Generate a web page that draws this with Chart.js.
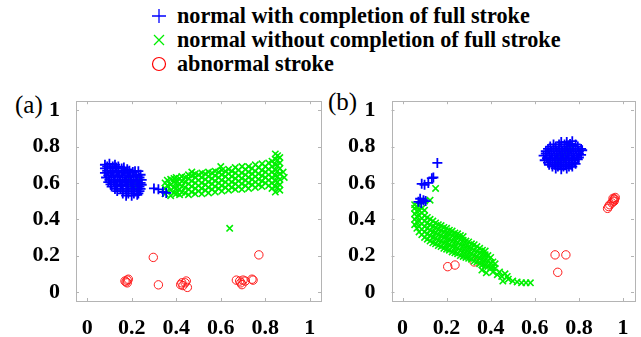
<!DOCTYPE html>
<html>
<head>
<meta charset="utf-8">
<script src="https://cdn.jsdelivr.net/npm/chart.js@4/dist/chart.umd.min.js"></script>
<style>
  body{ margin:0; background:#fff; width:641px; height:337px; overflow:hidden; position:relative; font-family:"Liberation Serif","Times New Roman",serif; }
  .cv{ position:absolute; }
  #wrapA{ left:0; top:80px; width:330px; height:257px; }
  #wrapB{ left:330px; top:80px; width:311px; height:257px; }
  .legend{ position:absolute; left:150px; top:4px; font-weight:bold; font-size:22.2px; color:#000; }
  .legend div{ height:24px; line-height:24px; white-space:nowrap; }
  .legend svg{ vertical-align:middle; margin-right:9px; position:relative; top:-2px; }
  .tag{ position:absolute; font-size:25px; color:#000; }
</style>
</head>
<body>
<div class="legend">
  <div><svg width="18" height="18"><path d="M9 2V16M2 9H16" stroke="#0000ff" stroke-width="1.3"/></svg>normal with completion of full stroke</div>
  <div><svg width="18" height="18"><path d="M4 4L14 14M14 4L4 14" stroke="#00ee00" stroke-width="1.3"/></svg>normal without completion of full stroke</div>
  <div><svg width="18" height="18"><circle cx="9" cy="9" r="6.5" fill="none" stroke="#ff0000" stroke-width="1.2"/></svg>abnormal stroke</div>
</div>
<div class="tag" style="left:15px;top:91px;">(a)</div>
<div class="tag" style="left:328px;top:88px;">(b)</div>
<div class="cv" id="wrapA"><canvas id="chartA"></canvas></div>
<div class="cv" id="wrapB"><canvas id="chartB"></canvas></div>
<script>
// tick values shared by both panels
const tickVals = [0, 0.2, 0.4, 0.6, 0.8, 1];
const axisMin = -0.05, axisMax = 1.05;

// ---- panel (a) ----
const blueA = [
  [0.08,0.70],[0.10,0.705],[0.125,0.70],
  [0.09,0.69],[0.115,0.69],[0.14,0.69],[0.165,0.685],
  [0.08,0.68],[0.105,0.68],[0.13,0.685],[0.155,0.68],[0.18,0.675],
  [0.09,0.667],[0.115,0.667],[0.14,0.667],[0.165,0.667],[0.19,0.667],[0.215,0.665],
  [0.08,0.655],[0.105,0.655],[0.13,0.66],[0.155,0.655],[0.18,0.655],[0.205,0.66],[0.23,0.665],
  [0.095,0.642],[0.12,0.642],[0.145,0.642],[0.17,0.642],[0.195,0.642],[0.22,0.642],[0.24,0.645],
  [0.085,0.63],[0.11,0.63],[0.135,0.635],[0.16,0.63],[0.185,0.63],[0.21,0.635],[0.235,0.63],
  [0.10,0.617],[0.125,0.617],[0.15,0.617],[0.175,0.617],[0.20,0.617],[0.225,0.617],[0.245,0.617],
  [0.095,0.605],[0.12,0.605],[0.145,0.61],[0.17,0.605],[0.195,0.605],[0.22,0.61],[0.24,0.60],
  [0.105,0.592],[0.13,0.592],[0.155,0.592],[0.18,0.592],[0.205,0.592],[0.23,0.592],[0.245,0.59],
  [0.11,0.58],[0.135,0.58],[0.16,0.585],[0.185,0.58],[0.21,0.58],[0.235,0.58],
  [0.125,0.567],[0.15,0.567],[0.175,0.567],[0.20,0.567],[0.225,0.567],[0.24,0.567],
  [0.135,0.555],[0.16,0.555],[0.185,0.555],[0.21,0.555],[0.235,0.555],
  [0.16,0.542],[0.185,0.542],[0.21,0.542],[0.23,0.542],
  [0.175,0.53],[0.20,0.53],[0.225,0.535],
  [0.30,0.57],[0.32,0.565],[0.34,0.55],[0.355,0.545]
];
const greenA = [
  [0.205,0.585],[0.215,0.595],[0.21,0.605],[0.20,0.60],[0.22,0.58],[0.21,0.575],[0.195,0.59],[0.225,0.60],[0.19,0.62],[0.23,0.62],
  [0.35,0.54],[0.35,0.57],[0.35,0.60],
  [0.36,0.555],[0.36,0.585],[0.36,0.615],
  [0.375,0.53],[0.375,0.56],[0.375,0.59],[0.375,0.62],
  [0.39,0.545],[0.39,0.575],[0.39,0.605],[0.39,0.625],
  [0.40,0.54],[0.40,0.57],[0.40,0.60],[0.40,0.63],
  [0.415,0.535],[0.415,0.565],[0.415,0.595],[0.415,0.625],
  [0.425,0.55],[0.425,0.58],[0.425,0.61],[0.425,0.635],
  [0.44,0.545],[0.44,0.575],[0.44,0.605],[0.44,0.63],
  [0.455,0.535],[0.455,0.565],[0.455,0.595],[0.455,0.625],[0.455,0.645],
  [0.47,0.55],[0.47,0.58],[0.47,0.61],[0.47,0.64],
  [0.485,0.54],[0.485,0.57],[0.485,0.60],[0.485,0.63],[0.485,0.65],
  [0.50,0.555],[0.50,0.585],[0.50,0.615],[0.50,0.645],
  [0.515,0.54],[0.515,0.57],[0.515,0.60],[0.515,0.63],[0.515,0.655],
  [0.53,0.56],[0.53,0.59],[0.53,0.62],[0.53,0.65],
  [0.545,0.545],[0.545,0.575],[0.545,0.605],[0.545,0.635],[0.545,0.66],
  [0.56,0.565],[0.56,0.595],[0.56,0.625],[0.56,0.655],
  [0.575,0.55],[0.575,0.58],[0.575,0.61],[0.575,0.64],[0.575,0.665],
  [0.59,0.57],[0.59,0.60],[0.59,0.63],[0.59,0.66],
  [0.605,0.555],[0.605,0.585],[0.605,0.615],[0.605,0.645],[0.605,0.67],
  [0.62,0.575],[0.62,0.605],[0.62,0.635],[0.62,0.665],
  [0.635,0.56],[0.635,0.59],[0.635,0.62],[0.635,0.65],[0.635,0.675],
  [0.65,0.575],[0.65,0.605],[0.65,0.635],[0.65,0.665],
  [0.665,0.565],[0.665,0.595],[0.665,0.625],[0.665,0.655],[0.665,0.685],
  [0.68,0.58],[0.68,0.61],[0.68,0.64],[0.68,0.67],
  [0.695,0.565],[0.695,0.595],[0.695,0.625],[0.695,0.655],[0.695,0.69],
  [0.71,0.585],[0.71,0.615],[0.71,0.645],[0.71,0.675],
  [0.725,0.57],[0.725,0.60],[0.725,0.63],[0.725,0.66],[0.725,0.69],
  [0.74,0.59],[0.74,0.62],[0.74,0.65],[0.74,0.68],
  [0.755,0.575],[0.755,0.605],[0.755,0.635],[0.755,0.665],[0.755,0.70],
  [0.77,0.59],[0.77,0.62],[0.77,0.65],[0.77,0.685],
  [0.785,0.58],[0.785,0.61],[0.785,0.64],[0.785,0.67],[0.785,0.705],
  [0.80,0.60],[0.80,0.63],[0.80,0.66],[0.80,0.69],
  [0.815,0.585],[0.815,0.615],[0.815,0.645],[0.815,0.675],[0.815,0.71],
  [0.83,0.57],[0.83,0.60],[0.83,0.63],[0.83,0.66],[0.83,0.69],[0.83,0.72],
  [0.845,0.55],[0.845,0.58],[0.845,0.61],[0.845,0.64],[0.845,0.67],[0.845,0.70],[0.845,0.73],[0.845,0.76],
  [0.855,0.575],[0.855,0.605],[0.855,0.635],[0.855,0.665],[0.855,0.695],[0.855,0.725],[0.855,0.75],
  [0.865,0.56],[0.865,0.59],[0.865,0.62],[0.865,0.65],[0.865,0.68],[0.865,0.71],[0.865,0.74],
  [0.885,0.63],[0.88,0.66],[0.64,0.35],[0.60,0.69],[0.47,0.66]
];
const redA = [
  [0.21,0.59],
  [0.17,0.06],[0.18,0.065],[0.175,0.055],[0.18,0.05],[0.185,0.07],
  [0.297,0.19],[0.32,0.039],
  [0.42,0.04],[0.43,0.035],[0.44,0.05],[0.445,0.06],[0.45,0.025],[0.425,0.05],
  [0.67,0.065],[0.685,0.06],[0.695,0.04],[0.70,0.065],[0.71,0.06],[0.74,0.07],[0.745,0.065],[0.69,0.05],
  [0.771,0.204]
];

// ---- panel (b) ----
const blueB = [
  [0.72,0.825],[0.745,0.825],[0.77,0.83],
  [0.685,0.812],[0.71,0.812],[0.735,0.812],[0.76,0.815],[0.785,0.812],
  [0.67,0.80],[0.695,0.80],[0.72,0.80],[0.745,0.80],[0.77,0.805],[0.795,0.80],
  [0.66,0.787],[0.685,0.787],[0.71,0.787],[0.735,0.787],[0.76,0.787],[0.785,0.787],[0.81,0.787],
  [0.65,0.775],[0.675,0.775],[0.70,0.775],[0.725,0.775],[0.75,0.775],[0.775,0.775],[0.80,0.775],[0.815,0.78],
  [0.65,0.762],[0.675,0.762],[0.70,0.762],[0.725,0.762],[0.75,0.762],[0.775,0.762],[0.80,0.762],
  [0.64,0.75],[0.665,0.75],[0.69,0.75],[0.715,0.75],[0.74,0.75],[0.765,0.75],[0.79,0.75],[0.81,0.755],
  [0.655,0.737],[0.68,0.737],[0.705,0.737],[0.73,0.737],[0.755,0.737],[0.78,0.737],[0.80,0.74],
  [0.645,0.725],[0.67,0.725],[0.695,0.725],[0.72,0.725],[0.745,0.725],[0.77,0.725],[0.795,0.73],
  [0.66,0.712],[0.68,0.712],[0.705,0.712],[0.73,0.712],[0.755,0.712],[0.78,0.712],
  [0.665,0.70],[0.69,0.70],[0.715,0.70],[0.74,0.70],[0.765,0.70],[0.785,0.705],
  [0.68,0.69],[0.705,0.69],[0.73,0.69],[0.755,0.69],[0.77,0.69],
  [0.695,0.68],[0.72,0.675],[0.745,0.68],
  [0.158,0.71],[0.133,0.626],[0.14,0.63],[0.117,0.60],[0.087,0.595],[0.10,0.59],
  [0.08,0.513],[0.095,0.505],[0.072,0.496],[0.085,0.49],[0.105,0.50]
];
const greenB = [
  [0.71,0.73],[0.72,0.745],[0.73,0.755],[0.74,0.765],[0.75,0.78],[0.76,0.79],[0.72,0.76],[0.735,0.74],[0.705,0.72],[0.745,0.775],[0.725,0.73],[0.70,0.745],
  [0.055,0.37],[0.055,0.40],[0.055,0.43],[0.055,0.46],[0.055,0.48],
  [0.065,0.35],[0.065,0.385],[0.065,0.415],[0.065,0.445],[0.065,0.47],
  [0.075,0.33],[0.075,0.36],[0.075,0.39],[0.075,0.42],[0.075,0.45],[0.075,0.475],
  [0.0875,0.315],[0.0875,0.345],[0.0875,0.375],[0.0875,0.405],[0.0875,0.435],[0.0875,0.46],
  [0.10,0.30],[0.10,0.33],[0.10,0.36],[0.10,0.39],[0.10,0.42],[0.10,0.45],
  [0.1125,0.29],[0.1125,0.32],[0.1125,0.35],[0.1125,0.38],[0.1125,0.41],
  [0.125,0.28],[0.125,0.31],[0.125,0.34],[0.125,0.37],[0.125,0.40],
  [0.1375,0.27],[0.1375,0.30],[0.1375,0.33],[0.1375,0.36],[0.1375,0.39],
  [0.15,0.265],[0.15,0.295],[0.15,0.325],[0.15,0.355],[0.15,0.38],
  [0.1625,0.255],[0.1625,0.285],[0.1625,0.315],[0.1625,0.345],[0.1625,0.37],
  [0.175,0.25],[0.175,0.28],[0.175,0.31],[0.175,0.34],[0.175,0.365],
  [0.1875,0.24],[0.1875,0.27],[0.1875,0.30],[0.1875,0.33],[0.1875,0.355],
  [0.20,0.235],[0.20,0.265],[0.20,0.295],[0.20,0.325],[0.20,0.35],
  [0.2125,0.23],[0.2125,0.26],[0.2125,0.29],[0.2125,0.32],[0.2125,0.34],
  [0.225,0.22],[0.225,0.25],[0.225,0.28],[0.225,0.31],[0.225,0.335],
  [0.2375,0.215],[0.2375,0.245],[0.2375,0.275],[0.2375,0.305],[0.2375,0.325],
  [0.25,0.21],[0.25,0.24],[0.25,0.27],[0.25,0.30],[0.25,0.32],
  [0.2625,0.20],[0.2625,0.23],[0.2625,0.26],[0.2625,0.29],[0.2625,0.31],
  [0.275,0.195],[0.275,0.225],[0.275,0.255],[0.275,0.285],[0.275,0.305],
  [0.2875,0.19],[0.2875,0.22],[0.2875,0.25],[0.2875,0.28],
  [0.30,0.185],[0.30,0.215],[0.30,0.245],[0.30,0.275],
  [0.3125,0.18],[0.3125,0.21],[0.3125,0.24],[0.3125,0.265],
  [0.325,0.17],[0.325,0.20],[0.325,0.23],[0.325,0.26],
  [0.3375,0.165],[0.3375,0.195],[0.3375,0.225],[0.3375,0.25],
  [0.35,0.155],[0.35,0.185],[0.35,0.215],[0.35,0.24],
  [0.3625,0.15],[0.3625,0.18],[0.3625,0.21],[0.3625,0.23],
  [0.375,0.145],[0.375,0.175],[0.375,0.205],[0.375,0.225],
  [0.3875,0.14],[0.3875,0.17],[0.3875,0.20],
  [0.40,0.135],[0.40,0.16],[0.40,0.19],
  [0.41,0.135],[0.41,0.165],
  [0.42,0.13],[0.42,0.155],
  [0.38,0.105],[0.43,0.095],[0.45,0.085],[0.455,0.06],[0.465,0.10],[0.475,0.085],[0.48,0.07],
  [0.50,0.06],[0.52,0.055],[0.54,0.05],[0.56,0.05],[0.58,0.05],[0.44,0.11],[0.41,0.11],[0.36,0.12],
  [0.15,0.57],[0.125,0.505],[0.10,0.50]
];
const redB = [
  [0.205,0.139],[0.238,0.148],[0.325,0.165],
  [0.692,0.204],[0.741,0.204],[0.704,0.108],
  [0.93,0.46],[0.935,0.47],[0.94,0.48],[0.95,0.49],[0.955,0.50],[0.96,0.51],[0.965,0.52],[0.96,0.50],[0.955,0.515],[0.962,0.512]
];

const BLUE = '#0000ff', GREEN = '#00f000', RED = '#ff1a1a';

function toPts(arr){ return arr.map(p => ({x:p[0], y:p[1]})); }

// box + inward tick marks like a matlab axes
const boxPlugin = {
  id: 'box',
  afterDraw(chart){
    const {ctx, chartArea:a, scales} = chart;
    ctx.save();
    ctx.strokeStyle = '#b4b4b4';
    ctx.lineWidth = 1;
    ctx.strokeRect(Math.round(a.left)+0.5, Math.round(a.top)+0.5, Math.round(a.right-a.left), Math.round(a.bottom-a.top));
    ctx.beginPath();
    for(const v of tickVals){
      const px = Math.round(scales.x.getPixelForValue(v))+0.5;
      ctx.moveTo(px, a.bottom); ctx.lineTo(px, a.bottom-3);
      ctx.moveTo(px, a.top); ctx.lineTo(px, a.top+3);
      const py = Math.round(scales.y.getPixelForValue(v))+0.5;
      ctx.moveTo(a.left, py); ctx.lineTo(a.left+3, py);
      ctx.moveTo(a.right, py); ctx.lineTo(a.right-3, py);
    }
    ctx.stroke();
    ctx.restore();
  }
};

function makeChart(id, blue, green, red, yWidth, padRight){
  const tickFont = { family:'"Liberation Serif", "Times New Roman", serif', size:22, weight:'bold' };
  const fixTicks = s => { s.ticks = tickVals.map(v => ({value:v})); };
  return new Chart(document.getElementById(id), {
    type: 'scatter',
    data: {
      datasets: [
        { data: toPts(blue), pointStyle:'cross', pointRadius:5, borderColor:BLUE, borderWidth:1.8, backgroundColor:BLUE },
        { data: toPts(green), pointStyle:'crossRot', pointRadius:4.5, borderColor:GREEN, borderWidth:1.6, backgroundColor:GREEN },
        { data: toPts(red), pointStyle:'circle', pointRadius:4.2, borderColor:RED, borderWidth:1, backgroundColor:'rgba(0,0,0,0)' }
      ]
    },
    options: {
      responsive: true,
      maintainAspectRatio: false,
      animation: false,
      events: [],
      layout: { padding: { top:11, right:padRight, left:0, bottom:0 } },
      plugins: { legend:{ display:false }, tooltip:{ enabled:false } },
      scales: {
        x: {
          type:'linear', min:axisMin, max:axisMax,
          grid:{ display:false }, border:{ display:false },
          afterBuildTicks: fixTicks,
          afterFit: s => { s.height = 36; },
          ticks:{ color:'#000', font:tickFont, padding:6, maxRotation:0, callback: v => String(v) }
        },
        y: {
          type:'linear', min:axisMin, max:axisMax,
          grid:{ display:false }, border:{ display:false },
          afterBuildTicks: fixTicks,
          afterFit: s => { s.width = yWidth; },
          ticks:{ color:'#000', font:tickFont, padding:8, callback: v => String(v) }
        }
      }
    },
    plugins: [boxPlugin]
  });
}

makeChart('chartA', blueA, greenA, redA, 76, 9);
makeChart('chartB', blueB, greenB, redB, 61.5, 7);
</script>
</body>
</html>
